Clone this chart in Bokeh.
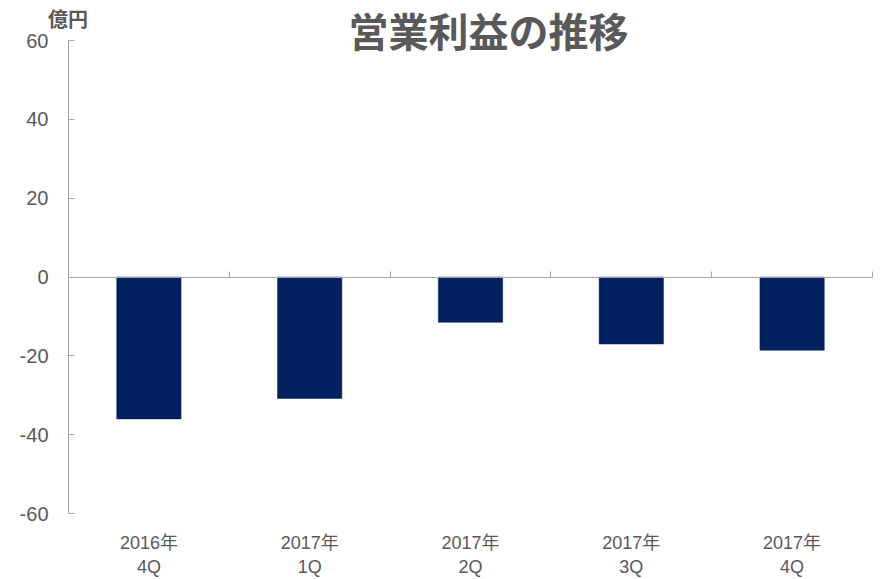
from bokeh.plotting import figure
from bokeh.models import Range1d, FixedTicker, LinearAxis, Label, ColumnDataSource, PrintfTickFormatter
from bokeh.embed import file_html
from bokeh.resources import INLINE

# ---- data ----
categories = ["2016年\n4Q", "2017年\n1Q", "2017年\n2Q", "2017年\n3Q", "2017年\n4Q"]
values = [-36.0, -30.8, -11.5, -17.0, -18.6]
y_ticks = [-60, -40, -20, 0, 20, 40, 60]
title_text = "営業利益の推移"
unit_text = "億円"

TEXT = "#595959"
AXIS = "#a6a6a6"
BAR = "#002060"
FONT = "Liberation Sans, Noto Sans CJK JP"
CJK = "Noto Sans CJK JP"

n = len(categories)
xs = [i + 0.5 for i in range(n)]
src = ColumnDataSource(dict(x=xs, top=values))

# frame spans the full canvas; axes are placed at fixed data locations
PX_X = 160.8   # pixels per category
PX_Y = 473 / 120.0
left_pad, right_pad, top_pad, bottom_pad = 68, 9, 40, 12
x_range = Range1d(-left_pad / PX_X, n + right_pad / PX_X)
y_range = Range1d(-60 - bottom_pad / PX_Y, 60 + top_pad / PX_Y)

p = figure(frame_width=881, frame_height=513 + bottom_pad, output_backend="svg", toolbar_location=None,
           x_range=x_range, y_range=y_range,
           min_border_left=0, min_border_right=0, min_border_top=0, min_border_bottom=0,
           x_axis_location=None, y_axis_location=None)
p.outline_line_color = None
p.xgrid.visible = False
p.ygrid.visible = False
p.background_fill_color = "white"
p.border_fill_color = "white"

p.vbar(x="x", top="top", bottom=0, width=0.4, source=src, fill_color=BAR, line_color=BAR, line_width=0.5)

# y axis at x = 0
ya = LinearAxis(ticker=FixedTicker(ticks=y_ticks), fixed_location=0, bounds=(-60, 60),
                formatter=PrintfTickFormatter(format="%d"))
ya.axis_line_color = AXIS
ya.major_tick_line_color = AXIS
ya.major_tick_in = 6
ya.major_tick_out = 0
ya.minor_tick_line_color = None
ya.major_label_text_color = TEXT
ya.major_label_text_font = FONT
ya.major_label_text_font_size = "20px"
ya.major_label_standoff = 20
p.add_layout(ya, "left")

# zero-line axis with category boundary ticks
za = LinearAxis(ticker=FixedTicker(ticks=list(range(n + 1))), fixed_location=0, bounds=(0, n))
za.axis_line_color = AXIS
za.major_tick_line_color = AXIS
za.major_tick_in = 6
za.major_tick_out = 0
za.minor_tick_line_color = None
za.major_label_text_color = None
za.major_label_text_font_size = "0px"
p.add_layout(za, "below")

# category label axis
xa = LinearAxis(ticker=FixedTicker(ticks=xs))
xa.major_label_overrides = {x: c for x, c in zip(xs, categories)}
xa.axis_line_color = None
xa.major_tick_line_color = None
xa.minor_tick_line_color = None
xa.major_tick_in = 0
xa.major_tick_out = 0
xa.major_label_text_color = TEXT
xa.major_label_text_font = FONT
xa.major_label_text_font_size = "18px"
xa.major_label_standoff = 19 - bottom_pad
p.add_layout(xa, "below")

p.add_layout(Label(x=2.612, y=62.7, text=title_text, text_font=CJK, text_font_size="40px",
                   text_font_style="bold", text_color=TEXT, text_align="center",
                   text_baseline="middle"))
p.add_layout(Label(x=-0.003, y=65.6, text=unit_text, text_font=CJK, text_font_size="20px",
                   text_font_style="bold", text_color=TEXT, text_align="center",
                   text_baseline="middle"))

open("out.html", "w").write(file_html(p, INLINE))
